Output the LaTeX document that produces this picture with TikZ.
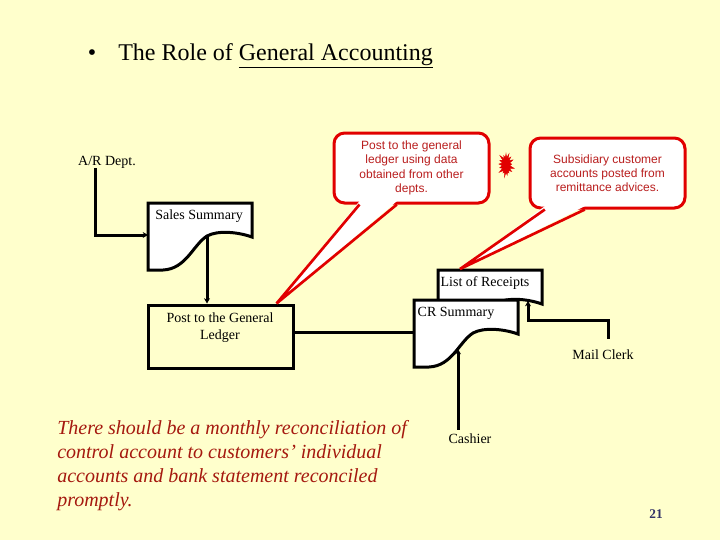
\documentclass[tikz,border=0pt]{standalone}
\usepackage{fontspec}
\setmainfont{Liberation Serif}
\newfontfamily\calloutfont{Liberation Sans}
\usetikzlibrary{shapes,arrows.meta,positioning}
\usepackage{xcolor}
\definecolor{slidebg}{RGB}{255,255,204}
\definecolor{callred}{RGB}{225,0,0}
\definecolor{calltext}{RGB}{185,30,30}
\definecolor{notered}{RGB}{165,25,15}
\definecolor{pagenum}{RGB}{51,51,102}

\begin{document}
\begin{tikzpicture}[x=0.75pt, y=-0.75pt,
    flow/.style={line width=2.25pt, draw=black},
    arr/.style={flow, -{Stealth[length=4pt, width=4.5pt]}},
    lbl/.style={font=\fontsize{10.5}{12.75}\selectfont, align=center, inner sep=0pt},
    callbox/.style={rectangle, rounded corners=8pt, draw=callred, line width=2.25pt,
                fill=white, minimum width=116.25pt, minimum height=52.5pt,
                font=\calloutfont\fontsize{9}{10.7}\selectfont, text=calltext, align=center},
    tail/.style={draw=callred, line width=2pt, line join=miter},
    docu/.pic={
      \draw[flow, fill=white] (0,0) -- (104,0) -- (104,34)
        .. controls (90,29) and (70,27) .. (59,33)
        .. controls (45,42) and (38,66) .. (15,67) -- (0,67) -- cycle;
      \coordinate (-left) at (0,32);
      \coordinate (-bump) at (59,33);
      \coordinate (-foot) at (90,31);
      \coordinate (-curve) at (44,49);
    },
]
\fill[slidebg] (0,0) rectangle (720,540);
\useasboundingbox (0,0) rectangle (720,540);

% Title
\node[font=\fontsize{18}{22}\selectfont, inner sep=0pt] (bullet) at (92,55) {\textbullet};
\node[anchor=base west, font=\fontsize{18}{22}\selectfont, inner sep=0pt] (title) at (118,60)
  {The Role of \underline{General Accounting}};

% Callouts
\node[callbox] (callA) at (411.5,168) {Post to the general\\ledger using data\\obtained from other\\depts.};
\node[callbox] (callB) at (607.5,173) {Subsidiary customer\\accounts posted from\\remittance advices.};
\node[starburst, fill=callred, draw=callred, minimum width=13.5pt, minimum height=19pt,
      starburst point height=4pt, inner sep=0pt] (burst) at (506,165) {};

% Documents
\pic (sales) at (148,203) {docu};
\pic (list) at (438,270) {docu};
\pic (crsum) at (414,300) {docu};
\node[lbl] (salestxt) at (199,216) {Sales Summary};
\node[lbl] (listtxt) at (485,283) {List of Receipts};
\node[lbl] (crtxt) at (456,313) {CR Summary};

% Post box
\node[flow, rectangle, minimum width=108.75pt, minimum height=47.25pt] (post) at (220.5,336.5) {};
\node[lbl] (posttxt) at (220,328) {Post to the General\\Ledger};

% People
\node[lbl] (ar) at (107,162) {A/R Dept.};
\node[lbl] (mail) at (603,355) {Mail Clerk};
\node[lbl] (cash) at (470,439) {Cashier};

% Flows
\draw[arr] ([xshift=-9pt]ar.south) |- (sales-left);
\draw[arr] (sales-bump) -- (sales-bump |- post.north);
\draw[flow] (post.east |- crsum-left) -- (crsum-left);
\draw[arr] (mail.north) ++(5,-11) -- ++(0,-18) -| (list-foot);
\draw[arr] (crsum-curve |- cash.north) ++(0,-4) -- (crsum-curve);

% Callout tails
\coordinate (tipA) at ([xshift=-13.5pt]post.north east);
\coordinate (tipB) at (460,269);
\fill[white] ([xshift=-39pt, yshift=2.5pt]callA.south) -- (tipA) -- ([xshift=-11pt, yshift=2.5pt]callA.south) -- cycle;
\draw[tail] ([xshift=-39pt]callA.south) -- (tipA) -- ([xshift=-11pt]callA.south);
\fill[white] ([xshift=-47pt, yshift=2.5pt]callB.south) -- (tipB) -- ([xshift=-17pt, yshift=2.5pt]callB.south) -- cycle;
\draw[tail] ([xshift=-47pt]callB.south) -- (tipB) -- ([xshift=-17pt]callB.south);

% Note
\node[anchor=north west, align=left, inner sep=0pt, text=notered,
      font=\itshape\fontsize{15}{18}\selectfont] (note) at (57,420)
  {There should be a monthly reconciliation of\\control account to customers' individual\\accounts and bank statement reconciled\\promptly.};

% Page number
\node[font=\bfseries\fontsize{10}{12}\selectfont, text=pagenum] (pg) at (656,514) {21};
\end{tikzpicture}
\end{document}
